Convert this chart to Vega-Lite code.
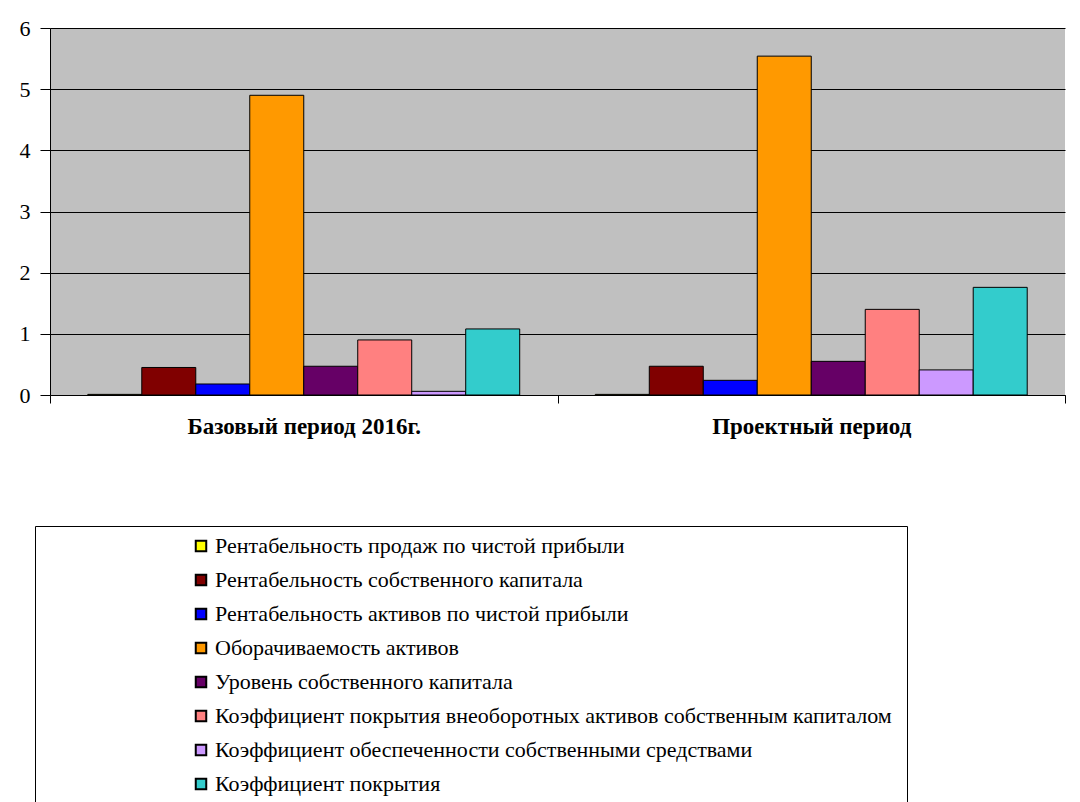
{
  "$schema": "https://vega.github.io/schema/vega-lite/v6.json",
  "width": 1015,
  "height": 367,
  "autosize": {"type": "none"},
  "padding": {"left": 50, "top": 28, "right": 15, "bottom": 407},
  "background": "white",
  "config": {"view": {"fill": "#c0c0c0", "stroke": null}, "font": "'Liberation Serif', 'Times New Roman', serif"},
  "data": {"values": [
    {"period": "Базовый период 2016г.", "indicator": "Рентабельность  продаж по чистой прибыли", "value": 0.01},
    {"period": "Базовый период 2016г.", "indicator": "Рентабельность  собственного капитала", "value": 0.45},
    {"period": "Базовый период 2016г.", "indicator": "Рентабельность  активов по чистой прибыли", "value": 0.18},
    {"period": "Базовый период 2016г.", "indicator": "Оборачиваемость активов", "value": 4.9},
    {"period": "Базовый период 2016г.", "indicator": "Уровень собственного капитала", "value": 0.47},
    {"period": "Базовый период 2016г.", "indicator": "Коэффициент покрытия внеоборотных активов  собственным капиталом", "value": 0.9},
    {"period": "Базовый период 2016г.", "indicator": "Коэффициент обеспеченности собственными средствами", "value": 0.06},
    {"period": "Базовый период 2016г.", "indicator": "Коэффициент покрытия", "value": 1.08},
    {"period": "Проектный  период", "indicator": "Рентабельность  продаж по чистой прибыли", "value": 0.01},
    {"period": "Проектный  период", "indicator": "Рентабельность  собственного капитала", "value": 0.47},
    {"period": "Проектный  период", "indicator": "Рентабельность  активов по чистой прибыли", "value": 0.24},
    {"period": "Проектный  период", "indicator": "Оборачиваемость активов", "value": 5.54},
    {"period": "Проектный  период", "indicator": "Уровень собственного капитала", "value": 0.55},
    {"period": "Проектный  период", "indicator": "Коэффициент покрытия внеоборотных активов  собственным капиталом", "value": 1.4},
    {"period": "Проектный  период", "indicator": "Коэффициент обеспеченности собственными средствами", "value": 0.41},
    {"period": "Проектный  период", "indicator": "Коэффициент покрытия", "value": 1.76}
  ]},
  "mark": {"type": "bar", "stroke": "black", "strokeWidth": 1},
  "encoding": {
    "x": {
      "field": "period", "type": "nominal",
      "sort": ["Базовый период 2016г.", "Проектный  период"],
      "scale": {"paddingInner": 0, "paddingOuter": 0},
      "axis": {"title": null, "labelAngle": 0, "labelFont": "'Liberation Serif', 'Times New Roman', serif", "labelFontWeight": "bold", "labelFontSize": 23, "labelLimit": 500, "labelColor": "black", "tickBand": "extent", "domainColor": "black", "tickColor": "black", "tickSize": 8, "labelPadding": 12}
    },
    "xOffset": {
      "field": "indicator", "type": "nominal",
      "sort": ["Рентабельность  продаж по чистой прибыли", "Рентабельность  собственного капитала", "Рентабельность  активов по чистой прибыли", "Оборачиваемость активов", "Уровень собственного капитала", "Коэффициент покрытия внеоборотных активов  собственным капиталом", "Коэффициент обеспеченности собственными средствами", "Коэффициент покрытия"],
      "scale": {"paddingInner": 0, "paddingOuter": 0.7}
    },
    "y": {
      "field": "value", "type": "quantitative",
      "scale": {"domain": [0, 6], "nice": false},
      "axis": {"title": null, "values": [0, 1, 2, 3, 4, 5, 6], "grid": true, "gridColor": "black", "gridOpacity": 1, "domainColor": "black", "tickColor": "black", "tickSize": 10, "labelFont": "'Liberation Serif', 'Times New Roman', serif", "labelFontSize": 22, "labelColor": "black", "labelPadding": 10}
    },
    "color": {
      "field": "indicator", "type": "nominal",
      "scale": {
        "domain": ["Рентабельность  продаж по чистой прибыли", "Рентабельность  собственного капитала", "Рентабельность  активов по чистой прибыли", "Оборачиваемость активов", "Уровень собственного капитала", "Коэффициент покрытия внеоборотных активов  собственным капиталом", "Коэффициент обеспеченности собственными средствами", "Коэффициент покрытия"],
        "range": ["#FFFF00", "#800000", "#0000FF", "#FF9900", "#660066", "#FF8080", "#CC99FF", "#33CCCC"]
      },
      "legend": {
        "title": null, "orient": "none", "legendX": -15, "legendY": 498, "direction": "vertical",
        "strokeColor": "black", "padding": 9, "symbolOffset": 146,
        "symbolType": "square", "symbolSize": 110, "symbolStrokeColor": "black", "symbolStrokeWidth": 2,
        "labelFont": "'Liberation Serif', 'Times New Roman', serif", "labelFontSize": 22, "labelColor": "black", "labelLimit": 900, "rowPadding": 12, "labelOffset": 3
      }
    }
  }
}
